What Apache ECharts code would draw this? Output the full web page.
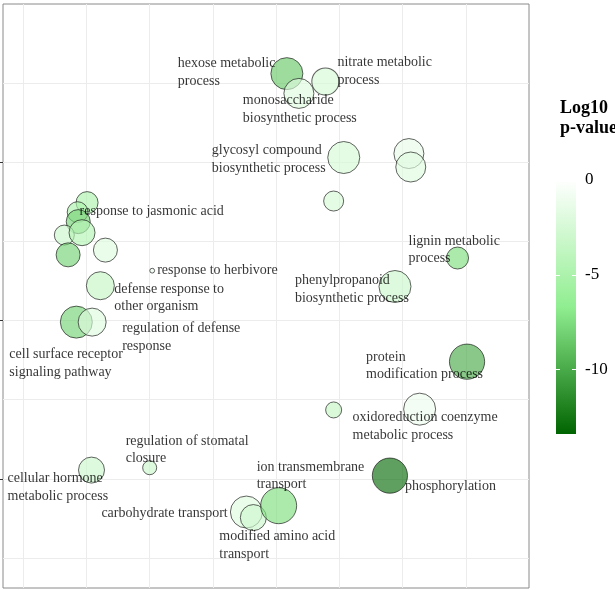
<!DOCTYPE html>
<html><head><meta charset="utf-8">
<script src="https://cdn.jsdelivr.net/npm/echarts@6/dist/echarts.min.js"></script>
<style>html,body{margin:0;padding:0;background:#fff}#c{width:615px;height:590px}</style>
</head><body><div id="c"></div>
<script>
// ---- data ----
const termNames = [
  'hexose metabolic\nprocess', 'monosaccharide\nbiosynthetic process', 'nitrate metabolic\nprocess',
  'glycosyl compound\nbiosynthetic process', '', '', '', 'lignin metabolic\nprocess',
  'phenylpropanoid\nbiosynthetic process', '', 'response to jasmonic acid', '', '', '', '', '',
  'response to herbivore', 'defense response to\nother organism', 'cell surface receptor\nsignaling pathway',
  'regulation of defense\nresponse', 'cellular hormone\nmetabolic process', 'regulation of stomatal\nclosure',
  'carbohydrate transport', 'modified amino acid\ntransport', 'ion transmembrane\ntransport',
  'protein\nmodification process', '', 'oxidoreduction coenzyme\nmetabolic process', 'phosphorylation'
];
const termX = [4.17, 4.36, 4.78, 5.07, 6.10, 6.13, 4.91, 6.87, 5.88, 1.01, 0.86, 0.87, 0.65, 0.93, 0.71, 1.30,
  2.04, 1.22, 0.84, 1.09, 1.08, 2.00, 3.53, 3.64, 4.04, 7.02, 4.91, 6.27, 5.80];
const termY = [6.12, 5.87, 6.02, 5.06, 5.11, 4.94, 4.51, 3.79, 3.43, 4.49, 4.37, 4.25, 4.08, 4.11, 3.83, 3.89,
  3.63, 3.44, 2.98, 2.98, 1.11, 1.14, 0.58, 0.51, 0.66, 2.48, 1.87, 1.88, 1.04];
const log10P = [-8.5, -2, -2.5, -2.5, -1.5, -2, -2.5, -7.5, -3, -5, -5, -8, -3, -4.5, -8, -2,
  -1, -3.5, -8, -2, -3, -3, -2, -3, -7.5, -10, -3.5, -1, -13];
const termSize = [4.0, 3.75, 3.4, 4.0, 3.75, 3.75, 2.5, 2.75, 4.0, 2.75, 2.6, 3.0, 2.5, 3.25, 3.0, 3.0,
  0.6, 3.5, 4.0, 3.5, 3.25, 1.75, 4.0, 3.25, 4.5, 4.4, 2.0, 4.0, 4.4];
const xGridValues = [0, 1, 2, 3, 4, 5, 6, 7];
const yGridValues = [0, 1, 2, 3, 4, 5, 6];
const yMajorTicks = [1, 3, 5];
const legendTicks = [0, -5, -10];
const pMin = -13.4, pMax = 0;
const gradColors = ['#006400', '#90ee90', '#ffffff'];
const legendTitle = 'Log10\np-value';

// label placement (pixel offsets from the point)
const labelOffsets = [
  [-109, -1.5], [-56, 16], [12, -10], [-132, 2], null, null, null, [-49, -8], [-100, 3], null, [2, -1],
  null, null, null, null, null, [5, 0], [14, 12], [-67, 41], [30, 15], [-84, 17], [-24, -18],
  [-145, 1], [-34, 28], [-22, -30], [-101, 4], null, [-67, 17], [15, 11]
];

const serif = "'Liberation Serif', 'DejaVu Serif', serif";
const pts = termX.map((x, i) => [x, termY[i], log10P[i], termSize[i], termNames[i]]);

const labelData = [];
pts.forEach((p, i) => {
  if (!termNames[i]) return;
  const o = labelOffsets[i];
  labelData.push({
    value: [p[0], p[1]],
    label: { show: true, formatter: termNames[i], position: [o[0], o[1]] }
  });
});

const gridLines = xGridValues.map(v => ({ xAxis: v })).concat(yGridValues.map(v => ({ yAxis: v })));

const chart = echarts.init(document.getElementById('c'), null, { renderer: 'canvas' });
chart.setOption({
  animation: false,
  backgroundColor: '#ffffff',
  title: {
    text: legendTitle, left: 555, top: 93,
    textStyle: { fontFamily: serif, fontWeight: 'bold', fontSize: 18, lineHeight: 20, color: '#000' }
  },
  grid: [
    { left: 3, top: 4, width: 526, height: 584, show: true, borderColor: '#8a8a8a', borderWidth: 1, backgroundColor: 'transparent' },
    { left: 556, top: 180, width: 20, height: 254 }
  ],
  xAxis: [
    { gridIndex: 0, type: 'value', min: -0.32, max: 8, axisLine: { show: false, onZero: false }, axisTick: { show: false },
      axisLabel: { show: false }, splitLine: { show: false } },
    { gridIndex: 1, type: 'category', data: [''], show: false }
  ],
  yAxis: [
    { gridIndex: 0, type: 'value', min: -0.38, max: 7, position: 'left', axisLine: { show: false, onZero: false },
      axisTick: { show: true, length: 3, customValues: yMajorTicks, lineStyle: { color: '#333' } },
      axisLabel: { show: false }, splitLine: { show: false } },
    { gridIndex: 1, type: 'value', min: pMin, max: pMax, position: 'right', z: 10,
      axisLine: { show: false, onZero: false }, splitLine: { show: false },
      axisTick: { show: true, inside: true, length: 4, customValues: legendTicks, lineStyle: { color: '#ffffff', width: 1 } },
      axisLabel: { show: true, customValues: legendTicks, margin: 9, fontFamily: serif, fontSize: 17, color: '#000' } },
    { gridIndex: 1, type: 'value', min: pMin, max: pMax, position: 'left', z: 10,
      axisLine: { show: false, onZero: false }, splitLine: { show: false }, axisLabel: { show: false },
      axisTick: { show: true, inside: true, length: 4, customValues: legendTicks, lineStyle: { color: '#ffffff', width: 1 } } }
  ],
  visualMap: {
    show: false, type: 'continuous', dimension: 2, seriesIndex: 1, min: pMin, max: pMax,
    inRange: { color: gradColors }
  },
  series: [
    { type: 'line', xAxisIndex: 0, yAxisIndex: 0, data: [], z: 0, silent: true,
      markLine: { silent: true, z: 0, symbol: 'none', label: { show: false },
        lineStyle: { color: '#ececec', width: 1, type: 'solid' }, data: gridLines } },
    { type: 'scatter', xAxisIndex: 0, yAxisIndex: 0, z: 2, data: pts,
      symbolSize: d => d[3] * 8,
      itemStyle: { opacity: 0.65, borderColor: '#111', borderWidth: 1 } },
    { type: 'scatter', xAxisIndex: 0, yAxisIndex: 0, z: 3, data: labelData, symbolSize: 0.01,
      itemStyle: { color: 'rgba(0,0,0,0)' }, silent: true,
      label: { show: true, align: 'left', verticalAlign: 'middle', fontFamily: serif, fontSize: 14,
        lineHeight: 17.5, color: '#000' } },
    { type: 'bar', xAxisIndex: 1, yAxisIndex: 1, data: [pMin], barWidth: '100%', silent: true, z: 2,
      itemStyle: { color: new echarts.graphic.LinearGradient(0, 0, 0, 1, [
        { offset: 0, color: gradColors[2] }, { offset: 0.5, color: gradColors[1] }, { offset: 1, color: gradColors[0] }
      ]) } }
  ]
});
</script></body></html>
